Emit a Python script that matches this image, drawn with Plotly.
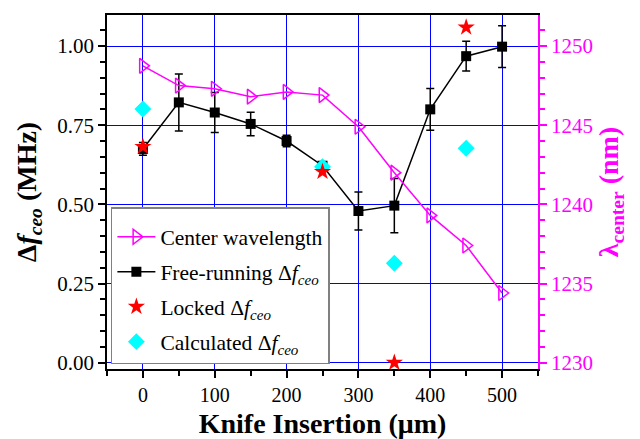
import plotly.graph_objects as go

# Data
knife = [0, 50, 100, 150, 200, 250, 300, 350, 400, 450, 500]
free_running = [0.675, 0.822, 0.790, 0.754, 0.700, 0.622, 0.479, 0.496, 0.800, 0.968, 0.998]
free_err = [0.02, 0.09, 0.063, 0.037, 0.018, 0.012, 0.06, 0.086, 0.066, 0.047, 0.066]
center_wl = [1248.75, 1247.5, 1247.3, 1246.8, 1247.1, 1246.9, 1244.9, 1242.0, 1239.3, 1237.4, 1234.4]

locked_x = [0, 250, 350, 450]
locked_y = [0.682, 0.603, 0.0, 1.059]

calc_x = [0, 250, 350, 450]
calc_y = [0.801, 0.619, 0.314, 0.677]

x_ticks = [0, 100, 200, 300, 400, 500]
y_ticks = [0.00, 0.25, 0.50, 0.75, 1.00]
y2_ticks = [1230, 1235, 1240, 1245, 1250]

FONT = '"Liberation Serif", "Times New Roman", "DejaVu Serif", serif'
MAG = "#FF00FF"

fig = go.Figure()

fig.add_trace(go.Scatter(
    x=knife, y=center_wl, yaxis="y2", mode="lines+markers",
    name="Center wavelength",
    line=dict(color=MAG, width=1.5),
    marker=dict(symbol="triangle-right-open", size=13, color=MAG, line=dict(width=1.5, color=MAG)),
    legendgroup="a", legendrank=1,
))
fig.add_trace(go.Scatter(
    x=knife, y=free_running, mode="lines+markers",
    name="Free-running Δ<i>f</i><sub><i>ceo</i></sub>",
    line=dict(color="black", width=1.5),
    marker=dict(symbol="square", size=10, color="black"),
    error_y=dict(type="data", array=free_err, visible=True, color="black", thickness=1.5, width=4),
    legendgroup="b", legendrank=2,
))
fig.add_trace(go.Scatter(
    x=calc_x, y=calc_y, mode="markers",
    name="Calculated Δ<i>f</i><sub><i>ceo</i></sub>",
    marker=dict(symbol="diamond", size=13, color="#00FFFF"),
    legendgroup="d", legendrank=4,
))
fig.add_trace(go.Scatter(
    x=locked_x, y=locked_y, mode="markers",
    name="Locked Δ<i>f</i><sub><i>ceo</i></sub>",
    marker=dict(symbol="star", size=13, color="#FF0000"),
    legendgroup="c", legendrank=3,
))

fig.update_layout(
    width=632, height=431,
    margin=dict(l=99, r=102, t=7, b=70, autoexpand=False),
    paper_bgcolor="white", plot_bgcolor="white",
    font=dict(family=FONT, size=20, color="black"),
    showlegend=True,
    legend=dict(
        x=0.009, y=0.4576, xanchor="left", yanchor="top",
        bgcolor="white", bordercolor="#808080", borderwidth=1.5,
        font=dict(family=FONT, size=21.5, color="black"),
        tracegroupgap=4, traceorder="grouped", itemwidth=38,
        title=dict(text="\u00a0", font=dict(family=FONT, size=6)),
    ),
    xaxis=dict(
        range=[-50, 550], tickvals=x_ticks, automargin=False,
        showgrid=True, gridcolor="#0000FF", gridwidth=1, zeroline=False,
        showline=True, linecolor="black", linewidth=1.5, mirror=True,
        ticks="outside", ticklen=7, tickwidth=1.5, tickcolor="black",
        minor=dict(dtick=50, ticks="outside", ticklen=5, tickwidth=1.5, tickcolor="black", showgrid=False),
        tickfont=dict(family=FONT, size=20),
        title=dict(text="<b>Knife Insertion (μm)</b>", font=dict(family=FONT, size=28), standoff=9),
    ),
    yaxis=dict(
        range=[-0.02, 1.098], tickvals=y_ticks, tickformat=".2f", automargin=False,
        showgrid=True, gridcolor="#0000FF", gridwidth=1, zeroline=False,
        showline=True, linecolor="black", linewidth=1.5,
        ticks="outside", ticklen=7, tickwidth=1.5, tickcolor="black",
        minor=dict(dtick=0.05, ticks="outside", ticklen=5, tickwidth=1.5, tickcolor="black", showgrid=False),
        tickfont=dict(family=FONT, size=21),
        title=dict(text="<b>Δ<i>f</i><sub><i>ceo</i></sub> (MHz)</b>", font=dict(family=FONT, size=28), standoff=12),
    ),
    yaxis2=dict(
        overlaying="y", side="right", automargin=False,
        range=[1229.6, 1251.96], tickvals=y2_ticks,
        showgrid=False, zeroline=False,
        showline=True, linecolor=MAG, linewidth=1.5,
        ticks="outside", ticklen=7, tickwidth=1.5, tickcolor=MAG,
        minor=dict(dtick=1, ticks="outside", ticklen=5, tickwidth=1.5, tickcolor=MAG, showgrid=False),
        tickfont=dict(family=FONT, size=21, color=MAG),
        title=dict(text="<b>λ<sub>center</sub> (nm)</b>", font=dict(family=FONT, size=28, color=MAG), standoff=5),
    ),
)

fig.write_html("out.html")
